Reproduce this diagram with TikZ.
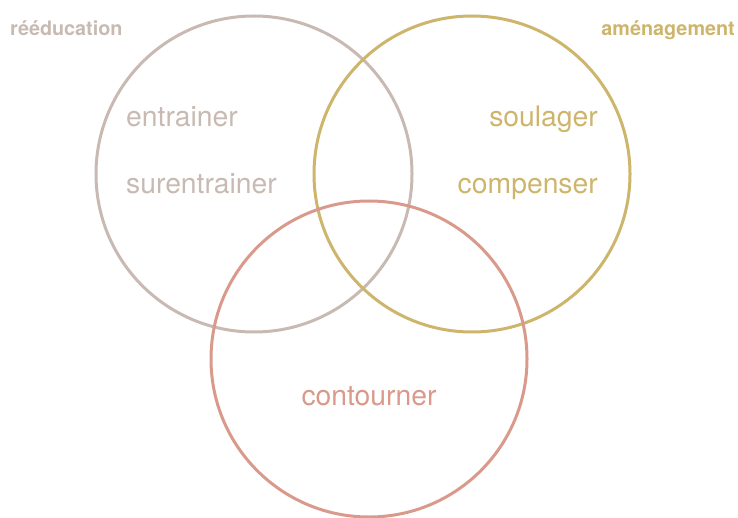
\documentclass[tikz,border=0pt]{standalone}
\usepackage{fontspec}
\setmainfont{TeX Gyre Heros}
\definecolor{cgray}{HTML}{C8BAB2}
\definecolor{cgold}{HTML}{CDB56C}
\definecolor{csalmon}{HTML}{D9998B}
\begin{document}
\begin{tikzpicture}[x=1pt,y=-1pt,
  ring/.style={line width=3pt},
  word/.style={font=\fontsize{28.3}{30}\selectfont, inner sep=0pt},
  tag/.style={font=\fontsize{19.8}{22}\selectfont\bfseries, inner sep=0pt}]
\useasboundingbox (0,0) rectangle (738,518);
\draw[ring, cgray] (254,174) circle[radius=158];
\draw[ring, cgold] (472,174) circle[radius=158];
\draw[ring, csalmon] (369,359) circle[radius=158];
\node[tag, text=cgray, anchor=base west] (reed) at (10,36) {rééducation};
\node[tag, text=cgold, anchor=base east] (amen) at (735,36) {aménagement};
\node[word, text=cgray, anchor=base west] (entr) at (126,127) {entrainer};
\node[word, text=cgray, anchor=base west] (sure) at (126,194) {surentrainer};
\node[word, text=cgold, anchor=base east] (soul) at (598,127) {soulager};
\node[word, text=cgold, anchor=base east] (comp) at (598,194) {compenser};
\node[word, text=csalmon, anchor=base] (cont) at (369,405) {contourner};
\end{tikzpicture}
\end{document}
